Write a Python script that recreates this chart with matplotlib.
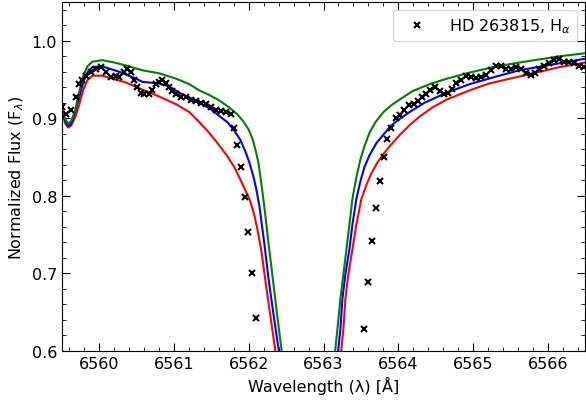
import matplotlib
matplotlib.use("Agg")
import matplotlib.pyplot as plt
import numpy as np
from matplotlib.ticker import AutoMinorLocator

obs_wave = [6559.505, 6559.558, 6559.625, 6559.692, 6559.732, 6559.772, 6559.826, 6559.893,
            6559.960, 6560.027, 6560.094, 6560.161, 6560.228, 6560.268, 6560.335, 6560.375,
            6560.428, 6560.469, 6560.509, 6560.562, 6560.602, 6560.669, 6560.710, 6560.763,
            6560.803, 6560.843, 6560.897, 6560.937, 6560.977, 6561.031, 6561.098, 6561.165,
            6561.232, 6561.299, 6561.365, 6561.432, 6561.499, 6561.566, 6561.633, 6561.700,
            6561.767, 6561.807, 6561.847, 6561.901, 6561.954, 6561.995, 6562.048, 6562.102,
            6563.548, 6563.601, 6563.655, 6563.708, 6563.762, 6563.815, 6563.855, 6563.909,
            6563.976, 6564.029, 6564.083, 6564.150, 6564.217, 6564.270, 6564.324, 6564.378,
            6564.431, 6564.498, 6564.565, 6564.618, 6564.672, 6564.726, 6564.779, 6564.846,
            6564.913, 6564.980, 6565.047, 6565.114, 6565.181, 6565.248, 6565.315, 6565.382,
            6565.448, 6565.515, 6565.582, 6565.649, 6565.716, 6565.783, 6565.837, 6565.890,
            6565.957, 6566.024, 6566.091, 6566.158, 6566.225, 6566.292, 6566.359, 6566.426,
            6566.493]
obs_flux = [0.915, 0.905, 0.911, 0.928, 0.944, 0.950, 0.954, 0.960,
            0.964, 0.966, 0.960, 0.953, 0.954, 0.953, 0.960, 0.963,
            0.960, 0.950, 0.941, 0.933, 0.931, 0.931, 0.937, 0.944,
            0.947, 0.950, 0.946, 0.941, 0.935, 0.931, 0.928, 0.927,
            0.924, 0.922, 0.920, 0.918, 0.915, 0.911, 0.909, 0.908,
            0.905, 0.888, 0.866, 0.837, 0.798, 0.753, 0.700, 0.642,
            0.628, 0.689, 0.742, 0.784, 0.819, 0.850, 0.873, 0.888,
            0.900, 0.904, 0.911, 0.917, 0.919, 0.923, 0.927, 0.931,
            0.937, 0.940, 0.935, 0.931, 0.933, 0.938, 0.945, 0.949,
            0.954, 0.953, 0.952, 0.953, 0.956, 0.962, 0.968, 0.967,
            0.963, 0.964, 0.966, 0.963, 0.959, 0.956, 0.959, 0.963,
            0.967, 0.971, 0.975, 0.976, 0.973, 0.973, 0.972, 0.968,
            0.966]

# model profiles: blue wing, gap (None) through the core, red wing
red_wave = [6559.491, 6559.545, 6559.585, 6559.625, 6559.679, 6559.732, 6559.786, 6559.839,
            6559.906, 6560.040, 6560.361, 6560.576, 6560.803, 6561.031, 6561.205, 6561.339,
            6561.473, 6561.606, 6561.714, 6561.807, 6561.888, 6561.955, 6562.021, 6562.075,
            6562.115, 6562.169, 6562.209, 6562.276, 6562.329, 6562.356, 6562.396,
            None,
            6563.213, 6563.240, 6563.266, 6563.293, 6563.333, 6563.387, 6563.440, 6563.507,
            6563.574, 6563.641, 6563.722, 6563.802, 6563.896, 6564.016, 6564.150, 6564.284,
            6564.458, 6564.645, 6564.953, 6565.221, 6565.623, 6566.158, 6566.506]
red_flux = [0.911, 0.893, 0.888, 0.891, 0.902, 0.918, 0.937, 0.949,
            0.955, 0.955, 0.946, 0.937, 0.928, 0.918, 0.908, 0.895,
            0.881, 0.865, 0.851, 0.837, 0.821, 0.807, 0.793, 0.775,
            0.757, 0.729, 0.700, 0.654, 0.618, 0.600, 0.574,
            None,
            0.574, 0.603, 0.628, 0.667, 0.699, 0.731, 0.763, 0.796,
            0.814, 0.829, 0.843, 0.854, 0.865, 0.878, 0.891, 0.902,
            0.914, 0.924, 0.936, 0.945, 0.954, 0.966, 0.972]

blue_wave = [6559.491, 6559.545, 6559.585, 6559.625, 6559.679, 6559.732, 6559.786, 6559.839,
             6559.906, 6560.040, 6560.268, 6560.495, 6560.576, 6560.803, 6560.937, 6561.071,
             6561.205, 6561.339, 6561.473, 6561.606, 6561.714, 6561.807, 6561.888, 6561.955,
             6562.008, 6562.062, 6562.102, 6562.142, 6562.169, 6562.209, 6562.262, 6562.316,
             6562.369, 6562.403, 6562.436,
             None,
             6563.173, 6563.199, 6563.226, 6563.253, 6563.293, 6563.347, 6563.387, 6563.440,
             6563.494, 6563.548, 6563.614, 6563.708, 6563.802, 6563.896, 6564.016, 6564.150,
             6564.351, 6564.645, 6564.953, 6565.315, 6565.623, 6566.158, 6566.506]
blue_flux = [0.911, 0.896, 0.890, 0.893, 0.909, 0.928, 0.947, 0.959,
             0.966, 0.967, 0.960, 0.951, 0.947, 0.945, 0.941, 0.933,
             0.927, 0.920, 0.913, 0.903, 0.895, 0.884, 0.872, 0.857,
             0.843, 0.825, 0.808, 0.787, 0.767, 0.738, 0.695, 0.657,
             0.622, 0.600, 0.574,
             None,
             0.574, 0.603, 0.628, 0.667, 0.699, 0.731, 0.763, 0.796,
             0.819, 0.837, 0.852, 0.868, 0.879, 0.890, 0.899, 0.908,
             0.920, 0.933, 0.944, 0.954, 0.962, 0.971, 0.977]

green_wave = [6559.491, 6559.545, 6559.585, 6559.625, 6559.679, 6559.732, 6559.786, 6559.839,
              6559.906, 6560.040, 6560.201, 6560.361, 6560.576, 6560.803, 6561.031, 6561.205,
              6561.339, 6561.473, 6561.606, 6561.740, 6561.847, 6561.928, 6561.995, 6562.048,
              6562.088, 6562.129, 6562.155, 6562.182, 6562.209, 6562.236, 6562.262, 6562.303,
              6562.343, 6562.383, 6562.436, 6562.463,
              None,
              6563.119, 6563.159, 6563.186, 6563.226, 6563.266, 6563.307, 6563.347, 6563.387,
              6563.440, 6563.494, 6563.548, 6563.614, 6563.695, 6563.802, 6563.909, 6564.016,
              6564.190, 6564.418, 6564.645, 6564.953, 6565.315, 6565.623, 6566.158, 6566.506]
green_flux = [0.911, 0.899, 0.893, 0.897, 0.911, 0.935, 0.955, 0.967,
              0.973, 0.975, 0.972, 0.968, 0.962, 0.958, 0.951, 0.944,
              0.936, 0.930, 0.923, 0.914, 0.905, 0.896, 0.886, 0.874,
              0.860, 0.843, 0.825, 0.806, 0.785, 0.763, 0.740, 0.708,
              0.676, 0.644, 0.603, 0.574,
              None,
              0.574, 0.603, 0.628, 0.667, 0.699, 0.731, 0.763, 0.796,
              0.824, 0.847, 0.864, 0.881, 0.895, 0.908, 0.917, 0.924,
              0.935, 0.944, 0.951, 0.959, 0.967, 0.972, 0.980, 0.984]


def clean(w, f):
    # None marks the gap through the line core
    w = np.array([np.nan if v is None else v for v in w], dtype=float)
    f = np.array([np.nan if v is None else v for v in f], dtype=float)
    return w, f


fs = 11.5
fig = plt.figure(figsize=(5.86, 4.02), dpi=100)
ax = fig.add_axes([0.1058, 0.1244, 0.8925, 0.8681])

ax.plot(*clean(red_wave, red_flux), color="red", lw=1.5)
ax.plot(*clean(blue_wave, blue_flux), color="blue", lw=1.5)
ax.plot(*clean(green_wave, green_flux), color="green", lw=1.5)
ax.plot(obs_wave, obs_flux, "x", color="black", ms=5, mew=1.5, ls="none",
        label=r"HD 263815, H$_\alpha$")

ax.set_xlim(6559.5, 6566.5)
ax.set_ylim(0.6, 1.05)
ax.set_xticks([6560, 6561, 6562, 6563, 6564, 6565, 6566])
ax.set_yticks([0.6, 0.7, 0.8, 0.9, 1.0])
ax.xaxis.set_minor_locator(AutoMinorLocator())
ax.yaxis.set_minor_locator(AutoMinorLocator())
ax.tick_params(which="both", direction="in", top=True, right=True, labelsize=fs)
ax.tick_params(which="major", length=6)
ax.tick_params(which="minor", length=3)

ax.set_xlabel("Wavelength (λ) [Å]", fontsize=fs)
ax.set_ylabel(r"Normalized Flux (F$_\lambda$)", fontsize=fs)
ax.legend(loc="upper right", fontsize=fs, handlelength=2.3)

fig.savefig("out.png", dpi=100)
